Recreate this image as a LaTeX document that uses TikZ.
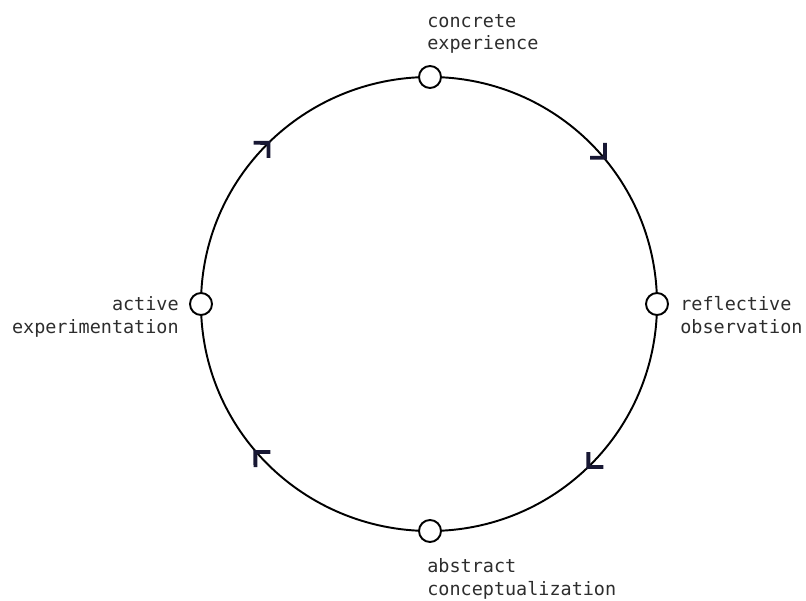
\documentclass[tikz,border=0pt]{standalone}
\usepackage{fontspec}
\setmonofont{DejaVu Sans Mono}
\usetikzlibrary{arrows.meta,decorations.markings,backgrounds}

\definecolor{txtgray}{RGB}{45,45,45}
\definecolor{tipnavy}{RGB}{24,24,52}

\tikzset{
    stage/.style={circle, draw=black, line width=1.1pt, fill=white, minimum size=0.44cm, inner sep=0pt},
    lbl/.style={font=\ttfamily\fontsize{10.5}{12.9}\selectfont, text=txtgray, align=left, inner sep=0pt},
    cyclearc/.style={line width=1.1pt, postaction={decorate},
        decoration={markings, mark=at position 0.5 with {\arrow[tipnavy, xshift=#1]{Straight Barb[angle=90:8.5pt, line width=2.2pt, sharp]}}}}
}

\begin{document}
\begin{tikzpicture}
    \useasboundingbox (-8.6,-5.94) rectangle (7.52,6.08);

    \node[stage] at (0, 4.54)(ce){};
    \node[stage] at (4.54, 0)(ro){};
    \node[stage] at (0, -4.54)(ac){};
    \node[stage] at (-4.58, 0)(ae){};

    \node[lbl, anchor=south west] at ([xshift=-0.06cm, yshift=0.22cm]ce.north)(celbl){concrete\\experience};
    \node[lbl, anchor=north west] at ([xshift=0.22cm, yshift=0.16cm]ro.east)(rolbl){reflective\\observation};
    \node[lbl, anchor=north west] at ([xshift=-0.06cm, yshift=-0.30cm]ac.south)(aclbl){abstract\\conceptualization};
    \node[lbl, anchor=north east, align=right] at ([xshift=-0.2cm, yshift=0.16cm]ae.west)(aelbl){active\\experimentation};

    \begin{scope}[on background layer]
    \draw[cyclearc=0.46cm] (ce.center) to[out=0, in=90] (ro.center);
    \draw[cyclearc=0.12cm] (ro.center) to[out=-90, in=0] (ac.center);
    \draw[cyclearc=0.42cm] (ac.center) to[out=180, in=-90] (ae.center);
    \draw[cyclearc=0.06cm] (ae.center) to[out=90, in=180] (ce.center);
    \end{scope}
\end{tikzpicture}
\end{document}
